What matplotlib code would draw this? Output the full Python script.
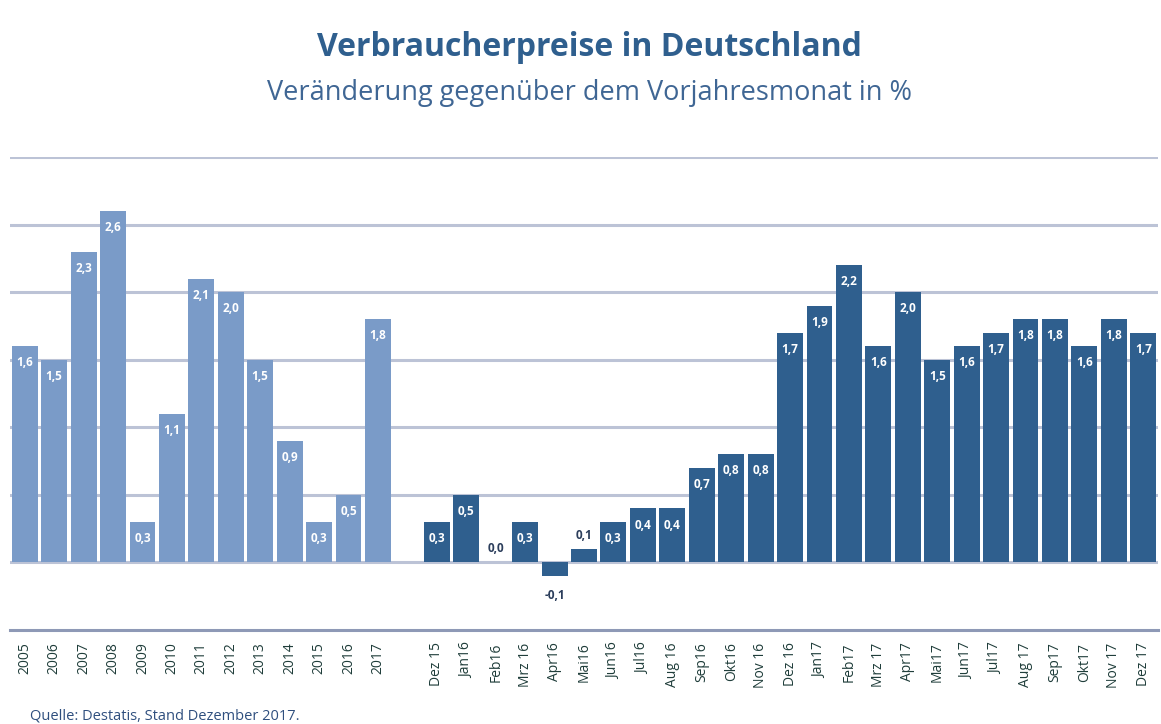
import matplotlib
matplotlib.use("Agg")
import matplotlib.pyplot as plt

years = ["2005", "2006", "2007", "2008", "2009", "2010", "2011", "2012", "2013",
         "2014", "2015", "2016", "2017"]
year_values = [1.6, 1.5, 2.3, 2.6, 0.3, 1.1, 2.1, 2.0, 1.5, 0.9, 0.3, 0.5, 1.8]

months = ["Dez 15", "Jan16", "Feb16", "Mrz 16", "Apr16", "Mai16", "Jun16", "Jul16",
          "Aug 16", "Sep16", "Okt16", "Nov 16", "Dez 16", "Jan17", "Feb17", "Mrz 17",
          "Apr17", "Mai17", "Jun17", "Jul17", "Aug 17", "Sep17", "Okt17", "Nov 17", "Dez 17"]
month_values = [0.3, 0.5, 0.0, 0.3, -0.1, 0.1, 0.3, 0.4, 0.4, 0.7, 0.8, 0.8, 1.7,
                1.9, 2.2, 1.6, 2.0, 1.5, 1.6, 1.7, 1.8, 1.8, 1.6, 1.8, 1.7]

light = "#7a9bc8"
dark = "#2f5f8e"
txt_dark = "#2c3e5c"
plt.rcParams['font.family'] = ['Open Sans', 'DejaVu Sans']

W, H = 1161, 724
fig = plt.figure(figsize=(W / 100, H / 100), dpi=100)
ax = fig.add_axes([10 / W, 1 - 630 / H, 1148 / W, (630 - 157) / H])

x_years = list(range(len(years)))
x_months = [len(years) + 1 + i for i in range(len(months))]

ax.set_ylim(-0.5, 3.0)
ax.set_xlim(-0.5, x_months[-1] + 0.5)

for yv in [0.0, 0.5, 1.0, 1.5, 2.0, 2.5, 3.0]:
    ax.axhline(yv, color="#bcc3d6", lw=2.2, zorder=0)
ax.axhline(-0.5, color="#8e99b6", lw=2.2, zorder=0, clip_on=False)

bw = 0.88
ax.bar(x_years, year_values, width=bw, color=light, zorder=2)
ax.bar(x_months, month_values, width=bw, color=dark, zorder=2)


def fmt(v):
    return f"{v:.1f}".replace(".", ",")


for xs, vals in [(x_years, year_values), (x_months, month_values)]:
    for x, v in zip(xs, vals):
        if v >= 0.3:
            ax.annotate(fmt(v), (x, v), xytext=(0, -12), textcoords="offset points",
                        ha="center", va="center", color="white", fontsize=8.5,
                        fontweight="bold", zorder=3)
        elif v >= 0:
            ax.annotate(fmt(v), (x, v), xytext=(0, 10), textcoords="offset points",
                        ha="center", va="center", color=txt_dark, fontsize=8.5,
                        fontweight="bold", zorder=3)
        else:
            ax.annotate(fmt(v), (x, v), xytext=(0, -14), textcoords="offset points",
                        ha="center", va="center", color=txt_dark, fontsize=8.5,
                        fontweight="bold", zorder=3)

ax.set_xticks(x_years + x_months)
ax.set_xticklabels(years + months, rotation=90, fontsize=10, color="#1f3d3a")
ax.tick_params(axis="x", length=0, pad=9)
ax.set_yticks([])
for s in ax.spines.values():
    s.set_visible(False)

fig.text(0.508, 1 - 47 / H, "Verbraucherpreise in Deutschland", ha="center", va="center",
         fontsize=23, fontweight="bold", color="#2f5f8e")
fig.text(0.508, 1 - 93 / H, "Veränderung gegenüber dem Vorjahresmonat in %", ha="center",
         va="center", fontsize=19.5, color="#3f6694")
fig.text(30 / W, 1 - 716 / H, "Quelle: Destatis, Stand Dezember 2017.", ha="left",
         va="center", fontsize=10.5, color="#2f4f7e")

fig.savefig("out.png", dpi=100)
